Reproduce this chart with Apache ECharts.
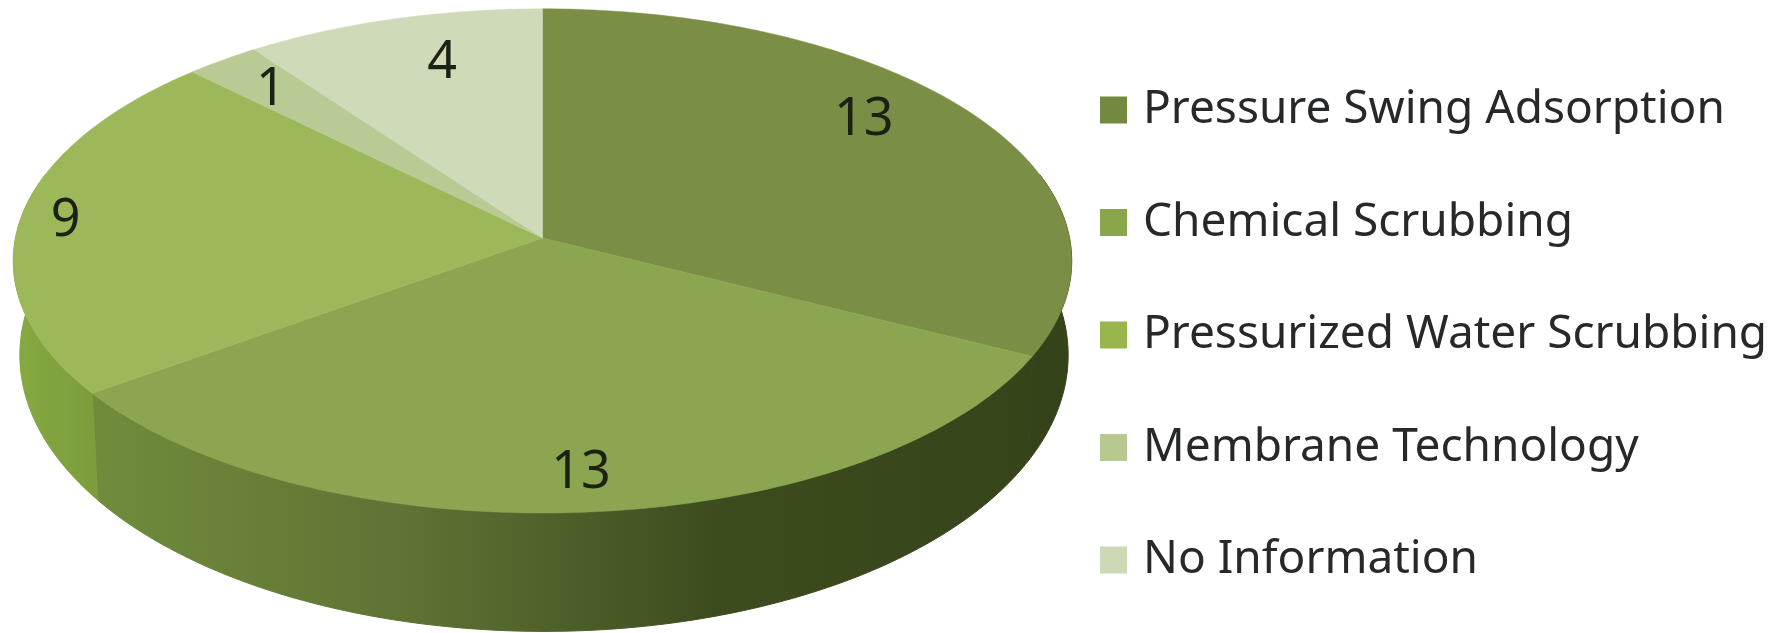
<!DOCTYPE html>
<html>
<head>
<meta charset="utf-8">
<title>Biogas upgrading technologies</title>
<script src="https://cdn.jsdelivr.net/npm/echarts@6/dist/echarts.min.js"></script>
<style>html,body{margin:0;padding:0;background:#fff}#chart{width:1782px;height:633px}</style>
</head>
<body>
<div id="chart"></div>
<script>
// Plant counts per upgrading technology
const categories = ['Pressure Swing Adsorption', 'Chemical Scrubbing', 'Pressurized Water Scrubbing', 'Membrane Technology', 'No Information'];
const values = [13, 13, 9, 1, 4];

// Slice styling
const topColors = ['#7a8f45', '#8ca550', '#9cb85a', '#b9ca94', '#cfdab8'];
const legendColors = ['#728a3f', '#8aa64a', '#98b54e', '#b8c98f', '#cdd8b4'];
const wallStops = [
  [[0, '#35431a'], [1, '#35431a']],
  [[0, '#708c3b'], [0.33, '#5f7335'], [0.5, '#4e6029'], [0.66, '#3d4c1e'], [1, '#36441a']],
  [[0, '#86a940'], [1, '#7c9c3d']],
  [[0, '#b9ca94'], [1, '#b9ca94']],
  [[0, '#cfdab8'], [1, '#cfdab8']]
];

// Where each value label sits: fraction of the radius and degrees off the slice's mid angle
const labelRadius = [0.815, 0.86, 0.915, 0.84, 0.786];
const labelShift = [-7, 0, 0.5, 0, 3];
const LABEL_DROP = 3;

// Perspective disc: top face and the lower rim of the wall
const PERSP = 0.0909;
const TOP_RING = { cx: 542.5, cy: 238, a: 527, b: 250 };
const BASE_RING = { cx: 544, cy: 330, a: 522, b: 274 };
const total = values.reduce((s, v) => s + v, 0);
const DEG = Math.PI / 180;

function project(ring, deg, r) {
  const x = Math.sin(deg * DEG) * r;
  const y = -Math.cos(deg * DEG) * r;
  const d = 1 - PERSP * y;
  return [ring.cx + ring.a * x / d, ring.cy + ring.b * y / d];
}
function arc(ring, from, to) {
  const pts = [];
  const n = Math.max(2, Math.ceil(Math.abs(to - from)));
  for (let i = 0; i <= n; i++) pts.push(project(ring, from + (to - from) * i / n, 1));
  return pts;
}

function sliceRenderer(index) {
  return function (params, api) {
    const value = api.value(0);
    const before = values.slice(0, index).reduce((s, v) => s + v, 0);
    const start = before / total * 360;
    const end = start + value / total * 360;
    const children = [];

    // Only the part of the rim facing the viewer gets a wall
    const wallFrom = Math.max(start, 75), wallTo = Math.min(end, 285);
    if (wallTo > wallFrom) {
      const upper = arc(TOP_RING, wallFrom, wallTo);
      const lower = arc(BASE_RING, wallFrom, wallTo);
      const xs = upper.concat(lower).map(p => p[0]);
      const paint = {
        type: 'linear', global: true,
        x: Math.min(...xs), y: 0, x2: Math.max(...xs), y2: 0,
        colorStops: wallStops[index].map(s => ({ offset: s[0], color: s[1] }))
      };
      children.push({
        type: 'polygon',
        z2: 1,
        shape: { points: upper.concat(lower.reverse()) },
        style: { fill: paint, stroke: paint, lineWidth: 1 }
      });
    }

    // Top face
    children.push({
      type: 'polygon',
      z2: 2,
      shape: { points: [[TOP_RING.cx, TOP_RING.cy]].concat(arc(TOP_RING, start, end)) },
      style: { fill: topColors[index], stroke: topColors[index], lineWidth: 0.5 }
    });

    // Value label
    const pos = project(TOP_RING, (start + end) / 2 + labelShift[index], labelRadius[index]);
    children.push({
      type: 'text',
      z2: 3,
      style: {
        text: String(value), x: pos[0], y: pos[1] + LABEL_DROP,
        align: 'center', verticalAlign: 'middle',
        fontFamily: 'Noto Sans', fontSize: 52, fill: '#1c2114'
      }
    });
    return { type: 'group', children };
  };
}

const chart = echarts.init(document.getElementById('chart'), null, { renderer: 'canvas' });
chart.setOption({
  backgroundColor: '#ffffff',
  animation: false,
  color: legendColors,
  legend: {
    orient: 'vertical',
    left: 1095,
    top: 74,
    itemWidth: 27,
    itemHeight: 27,
    itemGap: 50.5,
    icon: 'rect',
    data: categories,
    selectedMode: false,
    textStyle: { fontFamily: 'Noto Sans', fontSize: 46, color: '#26282a', padding: [0, 0, 0, 11], lineHeight: 62 }
  },
  series: categories.map((name, i) => ({
    type: 'custom',
    name,
    coordinateSystem: 'none',
    silent: true,
    data: [[values[i]]],
    renderItem: sliceRenderer(i)
  }))
});
</script>
</body>
</html>
